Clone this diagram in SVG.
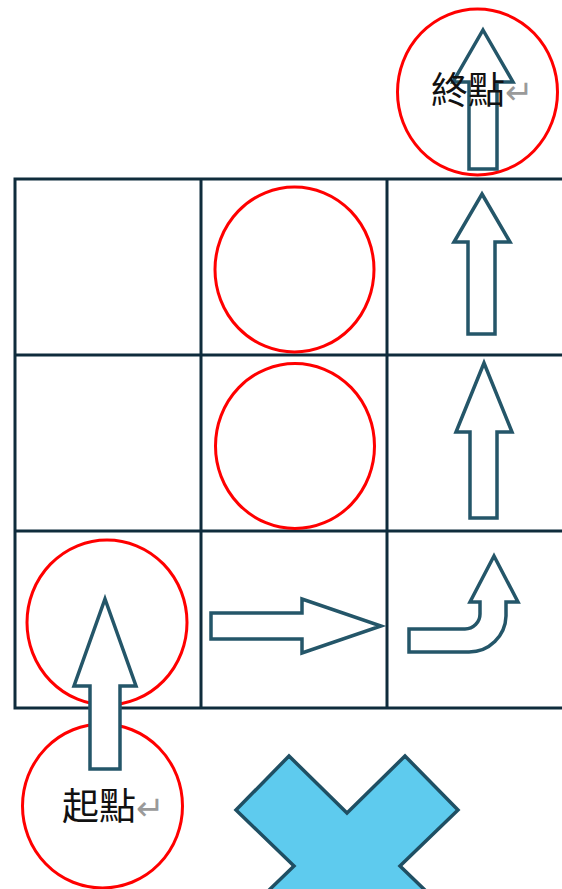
<svg xmlns="http://www.w3.org/2000/svg" width="562" height="889" viewBox="0 0 562 889">
<style>
.grid{fill:none;stroke:#0f2c3c;stroke-width:3}
.ring{fill:none;stroke:#ff0000;stroke-width:3}
.arr{fill:#ffffff;stroke:#245669;stroke-width:3.5;stroke-linejoin:miter}
.lbl{font-family:"Noto Sans CJK TC","Noto Sans CJK SC",sans-serif;font-size:37px;fill:#111}
.ret{fill:#9a9a9a;font-size:34px}
</style>
<g id="grid">
<rect class="grid" x="15" y="179" width="560" height="529"/>
<line class="grid" x1="201" y1="179" x2="201" y2="708"/>
<line class="grid" x1="387" y1="179" x2="387" y2="708"/>
<line class="grid" x1="15" y1="355" x2="575" y2="355"/>
<line class="grid" x1="15" y1="531" x2="575" y2="531"/>
</g>
<g id="obstacle1"><ellipse class="ring" cx="294.5" cy="269.5" rx="79.5" ry="82.5"/></g>
<g id="obstacle2"><ellipse class="ring" cx="295" cy="446" rx="79.5" ry="82.5"/></g>
<g id="obstacle3"><ellipse class="ring" cx="107" cy="622.5" rx="80" ry="82.5"/></g>
<g id="start"><ellipse class="ring" cx="102.5" cy="806" rx="80" ry="82"/></g>
<g id="end"><ellipse class="ring" cx="477.5" cy="92" rx="80" ry="83"/></g>
<g id="connectors">
<polygon class="arr" points="105,599 136,686 120,686 120,769 90,769 90,686 74,686"/>
<polygon class="arr" points="211,613 302,613 302,599 381,626 302,653 302,639 211,639"/>
<path class="arr" d="M494,556 L518,602 L506,602 L506,616 A37,37 0 0 1 469,652 L409,652 L409,629 L465,629 A15,15 0 0 0 480,614 L480,602 L470,602 Z"/>
<polygon class="arr" points="484,363 512,432 497,432 497,518 470,518 470,432 456,432"/>
<polygon class="arr" points="482,194 510,242 495,242 495,334 468,334 468,242 454,242"/>
<polygon class="arr" points="483,30 513,82 497,82 497,169 469,169 469,82 453,82"/>
</g>
<g id="labels">
<text class="lbl" x="431" y="104">終點<tspan class="ret">↵</tspan></text>
<text class="lbl" x="62" y="820">起點<tspan class="ret">↵</tspan></text>
</g>
<g id="cross">
<polygon points="347,813 405,756 458,810 400,866 458,922 405,976 347,919 289,976 236,922 294,866 236,810 289,756" fill="#5ecbee" stroke="#1f4f63" stroke-width="3.5" stroke-linejoin="miter"/>
</g>
</svg>
